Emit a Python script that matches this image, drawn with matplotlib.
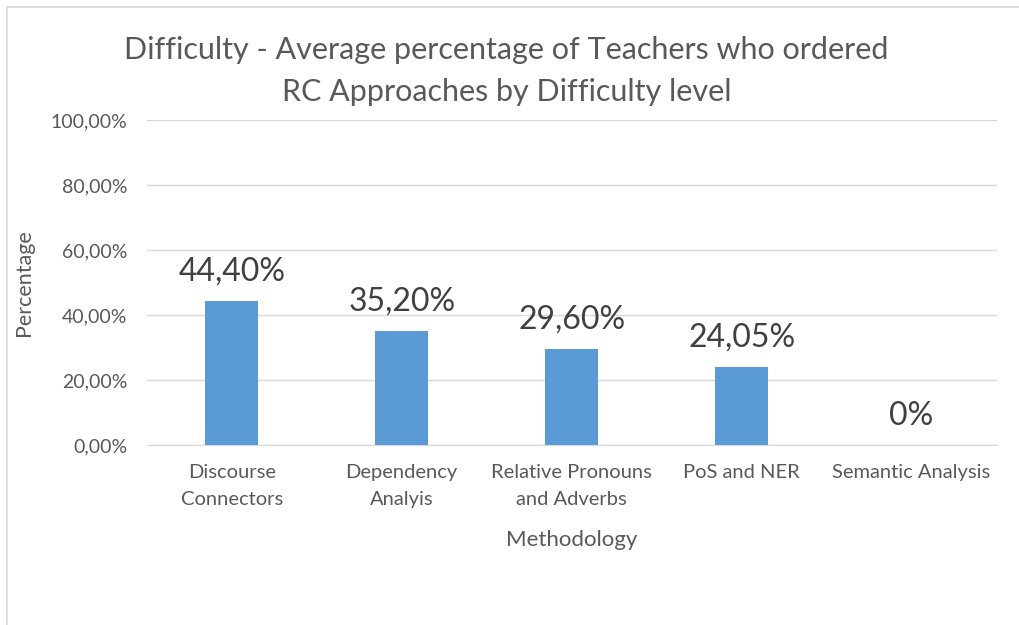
import matplotlib.pyplot as plt
from matplotlib.patches import Rectangle
from matplotlib.ticker import FuncFormatter

# --- data ---
categories = ["Discourse\nConnectors", "Dependency\nAnalyis", "Relative Pronouns\nand Adverbs",
              "PoS and NER", "Semantic Analysis"]
values = [44.40, 35.20, 29.60, 24.05, 0.0]
value_labels = ["44,40%", "35,20%", "29,60%", "24,05%", "0%"]
yticks = [0, 20, 40, 60, 80, 100]

plt.rcParams['font.family'] = ['Lato', 'DejaVu Sans']
text_grey = '#595959'

fig = plt.figure(figsize=(10.19, 6.25), dpi=100)
ax = fig.add_axes([0.144, 0.288, 0.834, 0.52])

x = range(len(categories))
bars = ax.bar(x, values, width=0.31, color='#5B9BD5', zorder=3)

for b, lab in zip(bars, value_labels):
    ax.annotate(lab, (b.get_x() + b.get_width() / 2, b.get_height()),
                xytext=(0, 10), textcoords='offset points', ha='center', va='bottom',
                fontsize=23, color='#404040')

ax.set_xlim(-0.5, len(categories) - 0.5)
ax.set_ylim(0, 100)
ax.set_yticks(yticks)
ax.yaxis.set_major_formatter(FuncFormatter(lambda v, p: f"{v:.2f}".replace('.', ',') + "%"))
ax.set_xticks(list(x))
ax.set_xticklabels(categories, fontsize=14.5, color=text_grey, linespacing=1.65)
ax.tick_params(axis='y', labelsize=14, labelcolor=text_grey, length=0, pad=14)
ax.tick_params(axis='x', length=0, pad=14)
ax.grid(axis='y', color='#D9D9D9', linewidth=1, zorder=0)
for s in ['top', 'right', 'left']:
    ax.spines[s].set_visible(False)
ax.spines['bottom'].set_color('#D9D9D9')

ax.set_xlabel("Methodology", fontsize=16, color=text_grey, labelpad=16)
ax.set_ylabel("Percentage", fontsize=15.5, color=text_grey, labelpad=12)

fig.text(0.497, 0.886, "Difficulty - Average percentage of Teachers who ordered\nRC Approaches by Difficulty level",
         ha='center', va='center', fontsize=22, color=text_grey, linespacing=1.62)

# light chart-area border like the spreadsheet export
fig.patches.append(Rectangle((0.007, -0.01), 1.1, 0.999, transform=fig.transFigure,
                             fill=False, edgecolor='#D9D9D9', linewidth=1.2))

fig.savefig("out.png", dpi=100)
